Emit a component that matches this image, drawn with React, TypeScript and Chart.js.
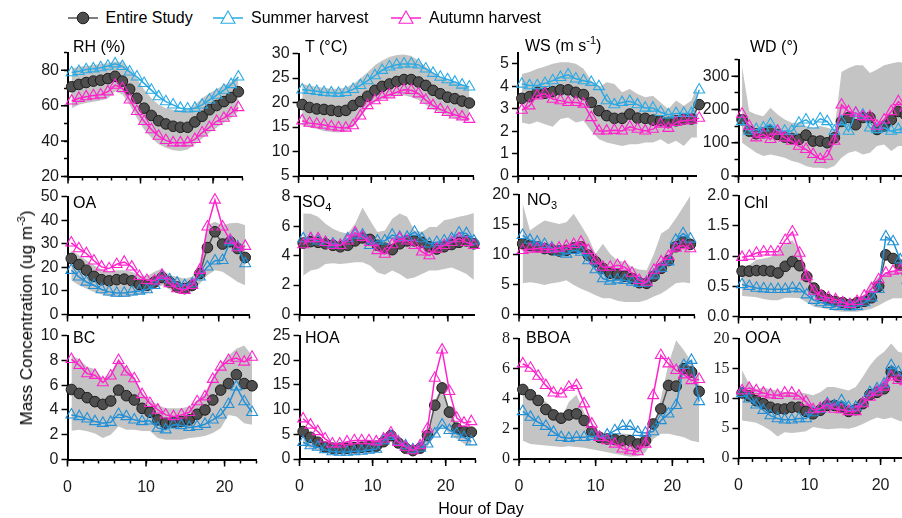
import React, { useEffect, useRef } from 'react';
import { Chart, registerables } from 'chart.js';
Chart.register(...registerables);

// ---------- categories ----------
const HOURS = [0.5, 1.5, 2.5, 3.5, 4.5, 5.5, 6.5, 7.5, 8.5, 9.5, 10.5, 11.5, 12.5, 13.5, 14.5, 15.5, 16.5, 17.5, 18.5, 19.5, 20.5, 21.5, 22.5, 23.5];
const X_LABELS = [0, 10, 20];

// ---------- data ----------
const RH_ALL = [70.7, 72.0, 73.1, 73.9, 74.4, 75.3, 76.6, 73.9, 69.3, 64.2, 58.6, 54.5, 51.5, 49.7, 48.4, 47.8, 47.8, 50.8, 54.0, 57.7, 60.1, 62.3, 64.6, 67.9];
const RH_SUM = [78.7, 79.4, 80.4, 80.9, 81.5, 82.4, 83.7, 82.2, 79.1, 76.3, 72.6, 68.8, 65.1, 62.3, 60.5, 58.6, 58.2, 58.6, 60.5, 63.3, 66.0, 68.8, 72.0, 76.3];
const RH_AUT = [62.7, 64.2, 65.1, 65.7, 66.2, 67.9, 71.6, 69.8, 63.3, 56.8, 51.2, 46.5, 42.8, 40.4, 39.1, 39.1, 39.1, 41.0, 44.7, 47.8, 51.2, 53.0, 55.8, 59.0];
const RH_HI = [81, 82, 82.5, 83, 83.5, 84, 85, 84.5, 81, 75.5, 69, 64.2, 60.5, 58.6, 57.7, 57.5, 57.7, 60.5, 64.2, 67, 69.4, 71.6, 73.5, 76.3];
const RH_LO = [58.6, 60.5, 61.5, 62.3, 63, 64, 68, 66.3, 60.5, 53, 46.5, 41.9, 38.2, 36.3, 34.8, 34.4, 35.3, 38.2, 41.5, 44.7, 47.5, 50.3, 53, 56.8];

const T_ALL = [19.6, 19.0, 18.7, 18.6, 18.4, 18.2, 18.4, 19.4, 20.2, 21.3, 22.5, 23.3, 23.8, 24.3, 24.7, 24.7, 24.2, 23.5, 22.5, 21.8, 21.1, 20.8, 20.3, 19.9];
const T_SUM = [22.6, 22.5, 22.3, 22.1, 22.0, 21.9, 22.1, 22.7, 23.5, 24.5, 25.5, 26.6, 27.3, 27.7, 27.9, 27.9, 27.7, 26.9, 26.0, 25.2, 24.7, 24.2, 23.6, 23.2];
const T_AUT = [16.3, 15.8, 15.6, 15.4, 15.1, 14.9, 14.8, 15.3, 17.3, 19.4, 20.4, 21.1, 21.6, 22.1, 22.6, 22.5, 21.8, 20.5, 19.4, 18.6, 18.0, 17.5, 17.1, 16.6];
const T_HI = [23.8, 23.5, 23.2, 23.0, 22.8, 22.8, 23.1, 23.8, 24.9, 26.2, 27.6, 28.6, 29.3, 29.7, 29.8, 29.5, 28.6, 27.3, 26.2, 25.2, 24.5, 24.0, 23.5, 23.2];
const T_LO = [15.3, 14.9, 14.6, 14.2, 14.0, 13.9, 14.2, 15.0, 17.0, 19.0, 20.0, 20.7, 21.1, 21.4, 21.5, 21.1, 20.5, 19.5, 18.6, 17.9, 17.2, 16.8, 16.4, 16.2];

const WS_ALL = [3.46, 3.54, 3.73, 3.69, 3.76, 3.84, 3.84, 3.73, 3.63, 3.28, 2.91, 2.69, 2.57, 2.57, 2.76, 2.58, 2.57, 2.49, 2.46, 2.39, 2.46, 2.54, 2.54, 3.18];
const WS_SUM = [4.10, 4.03, 4.03, 4.13, 4.25, 4.40, 4.51, 4.33, 4.25, 4.18, 3.99, 3.36, 3.18, 3.28, 3.33, 3.18, 3.03, 3.03, 2.84, 2.73, 2.79, 2.79, 2.79, 3.84];
const WS_AUT = [2.94, 3.13, 3.58, 3.66, 3.43, 3.36, 3.28, 3.28, 3.21, 2.61, 2.01, 2.01, 2.04, 2.01, 2.19, 2.09, 2.01, 2.09, 2.31, 2.13, 2.39, 2.46, 2.49, 2.58];
const WS_HI = [4.55, 4.63, 4.78, 4.88, 5.0, 5.07, 5.07, 5.0, 4.78, 4.25, 3.96, 4.18, 4.1, 3.73, 3.88, 3.66, 3.51, 3.58, 3.28, 2.99, 3.36, 3.13, 3.36, 4.25];
const WS_LO = [2.39, 2.31, 2.43, 2.31, 2.19, 2.54, 2.61, 2.39, 2.46, 2.01, 1.64, 1.49, 1.42, 1.34, 1.42, 1.42, 1.49, 1.49, 1.64, 1.42, 1.57, 1.34, 1.72, 1.72];

const WD_ALL = [169, 135, 127, 130, 135, 125, 117, 113, 110, 123, 105, 105, 100, 115, 164, 176, 154, 176, 176, 140, 150, 169, 194, 184];
const WD_SUM = [164, 135, 140, 145, 156, 135, 135, 135, 159, 169, 154, 172, 164, 135, 164, 135, 189, 184, 145, 140, 145, 135, 140, 145];
const WD_AUT = [186, 150, 115, 125, 110, 135, 115, 105, 90, 80, 65, 50, 60, 105, 214, 194, 189, 179, 179, 150, 169, 194, 224, 205];
const WD_HI = [330, 195, 185, 180, 205, 185, 170, 160, 160, 150, 145, 150, 145, 140, 313, 325, 333, 333, 310, 320, 333, 338, 343, 340];
const WD_LO = [100, 85, 70, 60, 65, 60, 55, 45, 40, 30, 25, 25, 22, 30, 55, 70, 75, 65, 70, 90, 95, 75, 90, 90];

const OA_ALL = [23.8, 21.2, 18.8, 16.2, 14.8, 14.3, 14.8, 15.0, 14.3, 12.7, 12.4, 13.8, 15.7, 13.8, 11.7, 11.0, 12.4, 17.4, 28.4, 35.1, 29.9, 30.9, 28.0, 24.2];
const OA_SUM = [18.8, 16.0, 13.8, 12.4, 10.6, 9.6, 9.1, 9.1, 9.6, 10.0, 10.6, 12.4, 16.2, 14.8, 13.4, 12.4, 13.1, 16.0, 20.2, 22.8, 23.0, 30.9, 28.7, 21.6];
const OA_AUT = [30.4, 28.0, 25.9, 22.8, 20.2, 19.5, 21.3, 22.3, 20.2, 16.2, 14.5, 14.3, 16.7, 13.1, 11.0, 10.3, 12.4, 18.8, 37.2, 48.6, 37.2, 31.6, 28.4, 29.0];
const OA_HI = [27.3, 25.2, 23.0, 20.9, 19.1, 18.1, 18.8, 18.8, 18.1, 16.7, 16.3, 18.1, 19.5, 16.7, 16.0, 15.2, 16.0, 22.3, 37.9, 39.4, 37.9, 38.7, 38.9, 37.9];
const OA_LO = [14.5, 12.4, 11.0, 9.6, 8.6, 7.7, 7.4, 7.4, 7.7, 8.6, 8.9, 11.0, 12.4, 10.6, 8.9, 8.6, 9.6, 13.1, 16.7, 18.8, 18.1, 16.0, 13.8, 12.4];

const SO4_ALL = [4.85, 4.95, 4.9, 4.8, 4.7, 4.6, 4.7, 5.0, 5.2, 5.1, 4.7, 4.5, 4.4, 4.8, 5.0, 5.0, 4.9, 4.6, 4.45, 4.6, 4.75, 4.9, 5.0, 4.8];
const SO4_SUM = [5.15, 5.15, 5.0, 4.9, 4.8, 4.7, 5.15, 5.4, 5.4, 4.7, 5.0, 5.0, 5.4, 5.25, 5.25, 5.6, 5.15, 4.8, 4.9, 5.0, 5.15, 5.55, 5.5, 5.0];
const SO4_AUT = [4.75, 5.15, 5.15, 4.9, 4.7, 4.7, 5.0, 5.55, 5.25, 4.9, 4.35, 4.1, 4.75, 5.15, 5.0, 4.7, 4.25, 4.0, 4.45, 4.7, 4.9, 5.15, 4.9, 4.7];
const SO4_HI = [6.86, 6.85, 6.63, 6.17, 5.83, 5.6, 5.5, 6.17, 7.27, 6.4, 5.6, 5.7, 6.5, 6.86, 6.63, 5.7, 5.6, 5.95, 5.95, 6.4, 6.5, 6.63, 6.74, 6.9];
const SO4_LO = [2.63, 2.98, 3.09, 3.43, 3.48, 3.43, 3.48, 3.55, 3.55, 3.32, 2.86, 2.7, 2.98, 2.75, 2.41, 2.52, 2.75, 2.98, 2.98, 3.09, 3.2, 2.98, 2.75, 2.34];

const NO3_ALL = [11.8, 11.5, 11.3, 11.0, 10.8, 10.6, 10.7, 11.1, 11.3, 9.9, 8.8, 7.7, 6.9, 6.7, 6.4, 6.0, 5.3, 5.2, 6.4, 7.7, 9.0, 11.3, 12.1, 11.7];
const NO3_SUM = [13.2, 12.4, 12.1, 11.7, 11.1, 10.4, 10.1, 10.7, 10.4, 9.0, 7.5, 6.0, 5.6, 5.8, 5.7, 5.4, 5.2, 5.3, 6.6, 7.7, 8.8, 12.4, 13.5, 12.6];
const NO3_AUT = [10.7, 10.9, 11.0, 10.9, 10.9, 11.1, 11.4, 11.7, 12.1, 10.7, 9.0, 7.9, 7.9, 8.2, 7.9, 6.9, 5.7, 5.4, 7.4, 8.8, 9.7, 11.1, 11.5, 11.0];
const NO3_HI = [18.5, 14.0, 14.9, 15.7, 15.4, 15.1, 15.4, 16.8, 14.9, 12.9, 10.1, 11.8, 10.1, 9.0, 8.8, 7.9, 7.5, 7.4, 10.1, 13.5, 14.3, 16.0, 17.9, 19.8];
const NO3_LO = [5.2, 5.4, 5.2, 4.9, 5.2, 5.4, 5.7, 4.9, 4.3, 3.8, 3.2, 2.7, 2.7, 2.3, 2.1, 2.1, 2.1, 2.4, 3.0, 3.5, 4.3, 5.2, 5.4, 5.2];

const CHL_ALL = [0.75, 0.75, 0.76, 0.76, 0.75, 0.72, 0.83, 0.91, 0.84, 0.66, 0.47, 0.35, 0.28, 0.25, 0.23, 0.20, 0.23, 0.25, 0.31, 0.50, 1.02, 0.96, 0.85, 0.70];
const CHL_SUM = [0.53, 0.50, 0.47, 0.46, 0.45, 0.45, 0.45, 0.47, 0.46, 0.36, 0.27, 0.23, 0.20, 0.17, 0.17, 0.16, 0.17, 0.23, 0.31, 0.45, 1.32, 1.24, 0.94, 0.60];
const CHL_AUT = [0.98, 1.00, 1.05, 1.07, 1.07, 1.07, 1.26, 1.40, 1.05, 0.66, 0.42, 0.34, 0.31, 0.28, 0.23, 0.20, 0.25, 0.34, 0.46, 0.61, 0.72, 0.75, 0.77, 0.77];
const CHL_HI = [0.83, 0.85, 0.94, 0.96, 0.99, 1.05, 1.21, 1.26, 1.10, 0.77, 0.53, 0.39, 0.34, 0.31, 0.27, 0.25, 0.28, 0.36, 0.55, 0.66, 0.72, 0.75, 0.77, 0.78];
const CHL_LO = [0.34, 0.33, 0.32, 0.29, 0.27, 0.27, 0.31, 0.31, 0.30, 0.23, 0.16, 0.14, 0.12, 0.09, 0.08, 0.08, 0.08, 0.10, 0.13, 0.18, 0.25, 0.30, 0.30, 0.30];

const BC_ALL = [5.65, 5.33, 4.99, 4.67, 4.45, 4.72, 5.6, 5.15, 4.8, 4.13, 3.81, 3.2, 2.93, 3.01, 3.07, 3.2, 3.65, 4.0, 4.8, 5.6, 6.13, 6.85, 6.13, 5.95];
const BC_SUM = [3.6, 3.47, 3.28, 3.07, 2.93, 3.01, 3.65, 3.47, 3.2, 3.07, 3.12, 2.53, 2.4, 2.8, 2.75, 2.59, 2.67, 2.85, 3.2, 3.6, 4.45, 5.87, 4.67, 3.81];
const BC_AUT = [8.08, 7.6, 6.93, 6.8, 6.21, 6.75, 8.0, 7.07, 6.53, 5.25, 4.53, 4.0, 3.6, 3.47, 3.6, 3.81, 4.67, 5.07, 6.48, 7.47, 8.0, 8.19, 7.87, 8.27];
const BC_HI = [8.4, 8.1, 7.47, 7.3, 6.53, 7.0, 8.13, 7.4, 6.67, 5.33, 4.8, 4.4, 4.13, 4.13, 4.13, 4.27, 4.8, 5.33, 6.67, 7.73, 8.4, 8.93, 9.2, 8.4];
const BC_LO = [2.32, 2.4, 2.27, 2.1, 1.73, 2.0, 2.67, 2.4, 2.4, 2.3, 2.3, 1.73, 1.6, 1.6, 1.6, 1.73, 1.8, 1.9, 2.13, 2.53, 3.6, 3.47, 2.93, 2.8];

const HOA_ALL = [5.57, 4.4, 3.4, 2.4, 2.2, 2.2, 2.2, 2.3, 2.4, 2.5, 2.6, 3.5, 4.75, 3.26, 2.2, 1.7, 2.2, 4.75, 10.9, 14.4, 9.5, 6.25, 5.57, 5.43];
const HOA_SUM = [3.4, 2.7, 2.4, 1.9, 1.5, 1.4, 1.4, 1.5, 1.6, 1.8, 2.0, 3.74, 4.6, 3.5, 2.7, 1.9, 2.2, 3.06, 5.1, 6.9, 5.8, 5.1, 4.4, 3.5];
const HOA_AUT = [8.15, 6.9, 5.57, 4.08, 3.06, 3.06, 3.5, 3.74, 3.74, 3.74, 3.5, 4.08, 5.3, 3.4, 2.4, 1.7, 2.7, 6.1, 16.4, 22.1, 13.7, 8.3, 7.3, 7.6];
const HOA_HI = [5.8, 5.0, 4.1, 3.3, 2.7, 2.7, 2.8, 2.8, 2.9, 3.0, 3.1, 4.0, 5.1, 3.9, 2.8, 2.2, 2.7, 5.0, 11.9, 14.6, 10.2, 7.1, 6.5, 6.4];
const HOA_LO = [2.7, 2.2, 1.7, 1.3, 1.0, 0.9, 0.9, 1.0, 1.1, 1.3, 1.5, 2.5, 3.5, 2.6, 1.6, 1.2, 1.5, 2.6, 4.6, 6.8, 5.1, 4.1, 3.1, 2.7];

const BBOA_ALL = [4.62, 4.27, 3.89, 3.29, 2.93, 2.71, 2.93, 3.0, 2.56, 1.82, 1.44, 1.33, 1.29, 1.22, 1.22, 1.0, 1.22, 2.33, 3.33, 4.89, 4.84, 6.0, 5.78, 4.49];
const BBOA_SUM = [3.16, 2.78, 2.44, 2.18, 1.78, 1.44, 1.38, 1.44, 1.44, 1.51, 1.44, 1.6, 1.89, 2.18, 2.18, 1.78, 1.73, 1.82, 2.56, 3.0, 3.56, 6.22, 6.56, 3.82];
const BBOA_AUT = [6.33, 6.04, 5.51, 4.89, 4.4, 4.33, 4.78, 4.89, 3.67, 2.33, 1.44, 1.22, 1.0, 0.67, 0.56, 0.49, 1.0, 4.22, 6.89, 6.33, 5.89, 5.6, 5.22, 5.29];
const BBOA_HI = [4.44, 4.4, 4.2, 3.8, 3.3, 2.67, 3.78, 4.27, 3.11, 1.78, 1.56, 1.6, 1.65, 1.7, 1.65, 1.33, 1.56, 2.0, 4.0, 6.33, 7.89, 7.22, 6.44, 5.67];
const BBOA_LO = [1.22, 1.0, 0.95, 0.9, 0.85, 0.8, 0.85, 0.8, 0.75, 0.65, 0.55, 0.45, 0.35, 0.25, 0.15, 0.18, 0.44, 1.33, 1.67, 1.67, 1.56, 1.44, 1.22, 1.11];

const OOA_ALL = [10.9, 10.4, 9.6, 9.1, 8.5, 8.2, 8.2, 8.5, 8.5, 7.8, 7.4, 8.0, 8.8, 8.8, 8.5, 7.8, 8.1, 9.1, 10.6, 11.0, 11.6, 14.4, 13.6, 13.5];
const OOA_SUM = [10.8, 9.9, 8.9, 8.0, 7.1, 6.6, 6.4, 6.4, 6.6, 6.6, 7.6, 8.2, 9.1, 8.8, 9.6, 8.5, 8.5, 9.2, 11.0, 11.6, 12.4, 15.5, 14.4, 13.0];
const OOA_AUT = [11.3, 11.7, 11.3, 10.9, 10.6, 10.5, 10.9, 10.9, 10.4, 9.4, 8.1, 8.3, 8.9, 8.2, 8.1, 7.8, 7.8, 9.1, 10.2, 11.1, 11.9, 13.6, 13.0, 12.8];
const OOA_HI = [14.7, 12.4, 11.6, 11.8, 11.5, 11.3, 11.1, 11.0, 11.0, 10.8, 10.5, 11.0, 11.9, 11.9, 11.6, 11.3, 11.9, 13.6, 15.5, 16.9, 17.8, 19.2, 17.8, 17.5];
const OOA_LO = [6.3, 6.1, 5.9, 5.3, 4.6, 3.6, 4.3, 4.2, 4.3, 4.5, 5.2, 5.0, 4.8, 4.9, 5.0, 4.9, 5.2, 5.7, 6.3, 6.8, 6.5, 6.8, 6.3, 6.0];

// ---------- styles ----------
const SANS = "'Liberation Sans', Arial, Helvetica, sans-serif";
const SERIF = "'Liberation Serif', 'Times New Roman', serif";
const BAND = '#c4c4c4';
const MAGENTA = '#ff22cc';
const BLUE_TOP = '#2aaae4';
const BLUE = '#2290d6';
const DOT_FILL = '#4e4e4e';
const DOT_LINE = '#555555';

type Panel = {
  all: number[]; sum: number[]; aut: number[]; hi: number[]; lo: number[];
  yMin: number; yMax: number; step: number; minor?: number; dec?: number;
  x0: number; pph: number; xMax: number; yTop: number; yBot: number;
  blue: string; xLabels: boolean; font: string;
};

const PANELS: Panel[] = [
  { all: RH_ALL, sum: RH_SUM, aut: RH_AUT, hi: RH_HI, lo: RH_LO, yMin: 20, yMax: 90, step: 20, minor: 10, x0: 68, pph: 7.39, xMax: 24, yTop: 50.4, yBot: 176.5, blue: BLUE_TOP, xLabels: false, font: SANS },
  { all: T_ALL, sum: T_SUM, aut: T_AUT, hi: T_HI, lo: T_LO, yMin: 5, yMax: 30, step: 5, x0: 298.6, pph: 7.43, xMax: 24, yTop: 53.3, yBot: 176, blue: BLUE_TOP, xLabels: false, font: SANS },
  { all: WS_ALL, sum: WS_SUM, aut: WS_AUT, hi: WS_HI, lo: WS_LO, yMin: 0, yMax: 5.5, step: 1, x0: 518, pph: 7.71, xMax: 23.2, yTop: 52, yBot: 176, blue: BLUE_TOP, xLabels: false, font: SANS },
  { all: WD_ALL, sum: WD_SUM, aut: WD_AUT, hi: WD_HI, lo: WD_LO, yMin: 0, yMax: 350, step: 100, minor: 50, x0: 738.5, pph: 7.23, xMax: 24, yTop: 57.4, yBot: 176, blue: BLUE_TOP, xLabels: false, font: SANS },

  { all: OA_ALL, sum: OA_SUM, aut: OA_AUT, hi: OA_HI, lo: OA_LO, yMin: 0, yMax: 50, step: 10, x0: 67.5, pph: 7.7, xMax: 24, yTop: 196.7, yBot: 314.5, blue: BLUE, xLabels: false, font: SANS },
  { all: SO4_ALL, sum: SO4_SUM, aut: SO4_AUT, hi: SO4_HI, lo: SO4_LO, yMin: 0, yMax: 8, step: 2, x0: 299.5, pph: 7.42, xMax: 23.6, yTop: 196.7, yBot: 314.5, blue: BLUE, xLabels: false, font: SANS },
  { all: NO3_ALL, sum: NO3_SUM, aut: NO3_AUT, hi: NO3_HI, lo: NO3_LO, yMin: 0, yMax: 20, step: 5, x0: 519, pph: 7.42, xMax: 24, yTop: 194.5, yBot: 314.5, blue: BLUE, xLabels: false, font: SANS },
  { all: CHL_ALL, sum: CHL_SUM, aut: CHL_AUT, hi: CHL_HI, lo: CHL_LO, yMin: 0, yMax: 2, step: 0.5, dec: 1, x0: 738.5, pph: 7.33, xMax: 24, yTop: 195.5, yBot: 316.5, blue: BLUE, xLabels: false, font: SANS },

  { all: BC_ALL, sum: BC_SUM, aut: BC_AUT, hi: BC_HI, lo: BC_LO, yMin: 0, yMax: 10, step: 2, x0: 67.5, pph: 8.02, xMax: 24, yTop: 335, yBot: 459.5, blue: BLUE, xLabels: true, font: SANS },
  { all: HOA_ALL, sum: HOA_SUM, aut: HOA_AUT, hi: HOA_HI, lo: HOA_LO, yMin: 0, yMax: 25, step: 5, x0: 299.5, pph: 7.45, xMax: 24, yTop: 335.5, yBot: 459, blue: BLUE, xLabels: true, font: SANS },
  { all: BBOA_ALL, sum: BBOA_SUM, aut: BBOA_AUT, hi: BBOA_HI, lo: BBOA_LO, yMin: 0, yMax: 8, step: 2, x0: 519, pph: 7.8, xMax: 24, yTop: 338.3, yBot: 459, blue: BLUE, xLabels: true, font: SERIF },
  { all: OOA_ALL, sum: OOA_SUM, aut: OOA_AUT, hi: OOA_HI, lo: OOA_LO, yMin: 0, yMax: 20, step: 5, x0: 738.5, pph: 7.23, xMax: 24, yTop: 338.3, yBot: 458, blue: BLUE, xLabels: true, font: SERIF },
];

const sub = (t: string) => <sub style={{ fontSize: 11, verticalAlign: -4, lineHeight: 0 }}>{t}</sub>;
const sup = (t: string) => <sup style={{ fontSize: 11, verticalAlign: 7, lineHeight: 0 }}>{t}</sup>;

const TITLES: { left: number; cy: number; node: React.ReactNode }[] = [
  { left: 73, cy: 47, node: <>RH (%)</> },
  { left: 305, cy: 47, node: <>T (°C)</> },
  { left: 525, cy: 46, node: <>WS (m s{sup('-1')})</> },
  { left: 750, cy: 47, node: <>WD (°)</> },
  { left: 73, cy: 203, node: <>OA</> },
  { left: 302, cy: 202, node: <>SO{sub('4')}</> },
  { left: 527, cy: 200, node: <>NO{sub('3')}</> },
  { left: 744, cy: 203, node: <>Chl</> },
  { left: 73, cy: 338, node: <>BC</> },
  { left: 305, cy: 338, node: <>HOA</> },
  { left: 526, cy: 338, node: <>BBOA</> },
  { left: 745, cy: 338, node: <>OOA</> },
];

const pts = (arr: number[]) => arr.map((y, i) => ({ x: HOURS[i], y }));

function geom(p: Panel) {
  const XH0 = p.xLabels ? 42 : 18;
  const left = Math.floor(p.x0) - 50;
  const yw = p.x0 - left;
  const top = Math.floor(p.yTop) - 12;
  const tp = p.yTop - top;
  const plotW = p.xMax * p.pph;
  const plotH = p.yBot - p.yTop;
  const W = Math.ceil(yw + plotW + 10);
  const rp = W - yw - plotW;
  const H = Math.ceil(tp + plotH + XH0);
  const xh = H - tp - plotH;
  return { left, top, yw, tp, rp, xh, W, H };
}

function PanelChart({ p }: { p: Panel }) {
  const ref = useRef<HTMLCanvasElement>(null);
  const g = geom(p);
  useEffect(() => {
    if (!ref.current) return;
    const isMajorY = (v: number) => Math.abs((v / p.step) - Math.round(v / p.step)) < 1e-6;
    const majorPlugin = {
      id: 'majorTicks',
      afterDraw(chart: any) {
        const { ctx, chartArea, scales } = chart;
        ctx.save();
        ctx.strokeStyle = '#000';
        ctx.lineWidth = 1.5;
        ctx.beginPath();
        for (const v of X_LABELS) {
          if (v > p.xMax) continue;
          const x = scales.x.getPixelForValue(v);
          ctx.moveTo(x, chartArea.bottom);
          ctx.lineTo(x, chartArea.bottom + 7);
        }
        if (p.minor) {
          for (let v = p.yMin; v <= p.yMax + 1e-9; v += p.step) {
            const y = scales.y.getPixelForValue(v);
            ctx.moveTo(chartArea.left - 7, y);
            ctx.lineTo(chartArea.left, y);
          }
        }
        ctx.stroke();
        ctx.restore();
      },
    };
    const tri = (color: string) => ({
      borderColor: color, borderWidth: 1.5, pointStyle: 'triangle', pointRadius: 6.3,
      pointBackgroundColor: 'rgba(0,0,0,0)', pointBorderColor: color, pointBorderWidth: 1.1,
    });
    const chart = new Chart(ref.current, {
      type: 'line',
      data: {
        datasets: [
          { label: 'lo', data: pts(p.lo), borderWidth: 0, borderColor: 'rgba(0,0,0,0)', pointRadius: 0, fill: false, order: 4, clip: false } as any,
          { label: 'hi', data: pts(p.hi), borderWidth: 0, borderColor: 'rgba(0,0,0,0)', pointRadius: 0, fill: '-1', backgroundColor: BAND, order: 3, clip: false } as any,
          { label: 'Entire Study', data: pts(p.all), borderColor: DOT_LINE, borderWidth: 1.5, pointStyle: 'circle', pointRadius: 5.3, pointBackgroundColor: DOT_FILL, pointBorderColor: '#1c1c1c', pointBorderWidth: 1, order: 2, clip: false } as any,
          { label: 'Summer harvest', data: pts(p.sum), ...tri(p.blue), order: 1, clip: false } as any,
          { label: 'Autumn harvest', data: pts(p.aut), ...tri(MAGENTA), order: 0, clip: false } as any,
        ],
      },
      options: {
        animation: false,
        responsive: false,
        events: [],
        layout: { padding: { left: 0, top: g.tp, right: g.rp, bottom: 0 } },
        plugins: { legend: { display: false }, tooltip: { enabled: false }, title: { display: false } },
        elements: { line: { tension: 0 } },
        scales: {
          x: {
            type: 'linear', min: 0, max: p.xMax,
            afterFit: (s: any) => { s.height = g.xh; },
            border: { display: true, color: '#000', width: 2 },
            grid: { display: true, drawOnChartArea: false, drawTicks: true, tickLength: 4, tickColor: '#000', tickWidth: 1.5 },
            ticks: {
              stepSize: 2, autoSkip: false, maxRotation: 0, includeBounds: false, padding: 14,
              color: '#1a1a1a', font: { family: SANS, size: 16 },
              callback: (v: any) => (p.xLabels && X_LABELS.includes(Number(v)) ? String(v) : ''),
            },
          },
          y: {
            type: 'linear', min: p.yMin, max: p.yMax,
            afterFit: (s: any) => { s.width = g.yw; },
            border: { display: true, color: '#000', width: 2 },
            grid: { display: true, drawOnChartArea: false, drawTicks: true, tickLength: p.minor ? 4 : 6, tickColor: '#000', tickWidth: 1.5 },
            ticks: {
              stepSize: p.minor || p.step, autoSkip: false, includeBounds: false, padding: p.minor ? 5 : 3,
              color: '#1a1a1a', font: { family: p.font, size: 16 },
              callback: (v: any) => (isMajorY(Number(v)) ? Number(v).toFixed(p.dec || 0) : ''),
            },
          },
        },
      } as any,
      plugins: [majorPlugin],
    });
    return () => chart.destroy();
  }, []);
  return (
    <canvas
      ref={ref}
      width={g.W}
      height={g.H}
      style={{ position: 'absolute', left: g.left, top: g.top, width: g.W, height: g.H }}
    />
  );
}

function LegendItem({ cx, kind, color, label }: { cx: number; kind: 'circle' | 'tri'; color: string; label: string }) {
  return (
    <>
      <svg width={34} height={16} style={{ position: 'absolute', left: cx - 17, top: 10 }}>
        <line x1={2} y1={8} x2={32} y2={8} stroke={color} strokeWidth={1.5} />
        {kind === 'circle' ? (
          <circle cx={17} cy={8} r={5.8} fill={DOT_FILL} stroke="#1c1c1c" strokeWidth={1} />
        ) : (
          <polygon points="17,1 24,13.3 10,13.3" fill="white" stroke={color} strokeWidth={1.1} />
        )}
      </svg>
      <div style={{ position: 'absolute', left: cx + 23, top: 9, fontSize: 16, lineHeight: '18px', whiteSpace: 'nowrap' }}>{label}</div>
    </>
  );
}

export default function App() {
  return (
    <div style={{ position: 'absolute', left: 0, top: 0, width: 902, height: 518, overflow: 'hidden', background: '#fff', fontFamily: SANS, color: '#000' }}>
      {PANELS.map((p, i) => <PanelChart key={i} p={p} />)}
      {TITLES.map((t, i) => (
        <div key={i} style={{ position: 'absolute', left: t.left, top: t.cy - 9, fontSize: 16, lineHeight: '18px', whiteSpace: 'nowrap' }}>{t.node}</div>
      ))}
      <LegendItem cx={82.5} kind="circle" color={DOT_LINE} label="Entire Study" />
      <LegendItem cx={228} kind="tri" color={BLUE_TOP} label="Summer harvest" />
      <LegendItem cx={406} kind="tri" color={MAGENTA} label="Autumn harvest" />
      <div style={{ position: 'absolute', left: 27, top: 318, transform: 'translate(-50%, -50%) rotate(-90deg)', fontSize: 17, lineHeight: '18px', whiteSpace: 'nowrap' }}>
        Mass Concentration (ug m{sup('-3')})
      </div>
      <div style={{ position: 'absolute', left: 481, top: 500, transform: 'translateX(-50%)', fontSize: 16, lineHeight: '18px', whiteSpace: 'nowrap' }}>
        Hour of Day
      </div>
    </div>
  );
}
